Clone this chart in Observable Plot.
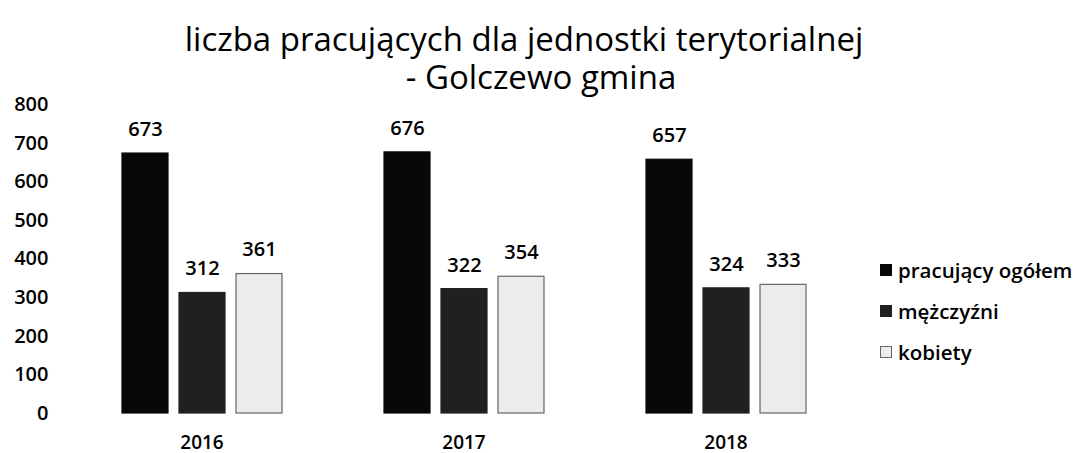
<!DOCTYPE html>
<html>
<head>
<meta charset="utf-8">
<script src="https://cdn.jsdelivr.net/npm/d3@7"></script>
<script src="https://cdn.jsdelivr.net/npm/@observablehq/plot@0.6"></script>
<style>
  html, body { margin: 0; padding: 0; background: #fff; }
  body { width: 1076px; height: 453px; overflow: hidden; font-family: "Open Sans", sans-serif; color: #000; position: relative; }
  .tl { position: absolute; left: 0; text-align: center; font-size: 33px; line-height: 36px; height: 36px; z-index: 2; white-space: nowrap; }
  #t1 { top: 21px; width: 1048px; }
  #t2 { top: 59px; width: 1082px; }
  #chart { position: absolute; left: 0; top: 80px; z-index: 1; }
  #legend { position: absolute; left: 880px; top: 249px; font-size: 20.5px; font-weight: 600; }
  .item { display: flex; align-items: center; height: 41px; }
  .sw { width: 12px; height: 12px; margin-right: 6px; box-sizing: border-box; }
</style>
</head>
<body>
<div id="t1" class="tl">liczba pracujących dla jednostki terytorialnej</div>
<div id="t2" class="tl">- Golczewo gmina</div>
<div id="chart"></div>
<div id="legend"></div>
<script>
const years = ["2016", "2017", "2018"];
const series = ["pracujący ogółem", "mężczyźni", "kobiety"];
const ogolem = [673, 676, 657];
const mezczyzni = [312, 322, 324];
const kobiety = [361, 354, 333];
const yTicks = [0, 100, 200, 300, 400, 500, 600, 700, 800];

const fills = ["#080808", "#202020", "#ececec"];
const strokes = ["#080808", "#202020", "#666666"];

const data = [];
years.forEach((y, i) => {
  data.push({year: y, series: series[0], value: ogolem[i]});
  data.push({year: y, series: series[1], value: mezczyzni[i]});
  data.push({year: y, series: series[2], value: kobiety[i]});
});

const plot = Plot.plot({
  width: 872,
  height: 373,
  marginLeft: 70,
  marginRight: 14,
  marginTop: 24,
  marginBottom: 40,
  style: {fontFamily: "'Open Sans', sans-serif", fontSize: "20px", fontWeight: 600, color: "#000", background: "transparent", overflow: "visible"},
  fx: {domain: years, paddingInner: 0.3, paddingOuter: 0.153, label: null},
  x: {domain: series, padding: 0.2, axis: null},
  y: {domain: [0, 800], ticks: yTicks, label: null},
  color: {domain: series, range: fills},
  marks: [
    Plot.axisY({ticks: yTicks, tickSize: 0, tickPadding: 62, label: null, fontSize: 20}),
    Plot.axisFx({anchor: "bottom", tickSize: 0, tickPadding: 22, label: null, fontSize: 19}),
    Plot.barY(data, {fx: "year", x: "series", y: "value", fill: "series",
      stroke: d => strokes[series.indexOf(d.series)], strokeWidth: 1.2}),
    Plot.text(data, {fx: "year", x: "series", y: "value", text: d => String(d.value),
      dy: -24, fontSize: 20, fill: "#000"})
  ]
});
document.getElementById("chart").appendChild(plot);

const leg = document.getElementById("legend");
series.forEach((s, i) => {
  const it = document.createElement("div");
  it.className = "item";
  const sw = document.createElement("div");
  sw.className = "sw";
  sw.style.background = fills[i];
  sw.style.border = "1px solid " + strokes[i];
  const t = document.createElement("span");
  t.textContent = s;
  it.appendChild(sw); it.appendChild(t);
  leg.appendChild(it);
});
</script>
</body>
</html>
